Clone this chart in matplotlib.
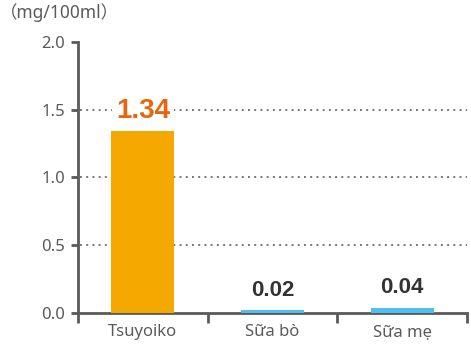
import matplotlib
matplotlib.use('Agg')
import matplotlib.pyplot as plt
import numpy as np

categories = ['Tsuyoiko', 'Sữa bò', 'Sữa mẹ']
values = [1.34, 0.02, 0.04]
label_texts = ['1.34', '0.02', '0.04']
yticks = [0.0, 0.5, 1.0, 1.5, 2.0]
unit = '（mg/100ml）'

bar_colors = ['#F5A800', '#4EC0EE', '#4EC0EE']
label_colors = ['#E8650E', '#333333', '#333333']
label_sizes = [20, 16, 16]
label_offsets = [5, 7, 7]
axis_grey = '#5a5a5a'

plt.rcParams['font.family'] = ['Noto Sans', 'Noto Sans CJK JP', 'DejaVu Sans']

fig = plt.figure(figsize=(4.71, 3.47), dpi=100)
ax = fig.add_axes([78 / 471, 34 / 347, 389 / 471, 271 / 347])

x = np.arange(len(categories))
ax.bar(x, values, width=0.485, color=bar_colors, zorder=3)

for xi, v, t, c, s, o in zip(x, values, label_texts, label_colors, label_sizes, label_offsets):
    ax.annotate(t, (xi, v), xytext=(0, o), textcoords='offset points',
                ha='center', va='bottom', fontsize=s, fontweight='bold',
                color=c, family='Liberation Sans', zorder=5,
                bbox=dict(boxstyle='square,pad=0.15', facecolor='white', edgecolor='none'))

ax.set_xlim(-0.5, 2.5)
ax.set_ylim(0, 2.0)
ax.set_yticks(yticks)
ax.set_yticklabels(['%.1f' % t for t in yticks])
ax.set_xticks(x)
ax.set_xticklabels(categories)
ax.set_xticks([-0.5, 0.5, 1.5, 2.5], minor=True)

for t in yticks[1:-1]:
    ax.axhline(t, xmin=0.005, color='#777777', lw=1.4, ls=(0, (1, 2.2)), zorder=1)

for side in ['top', 'right']:
    ax.spines[side].set_visible(False)
for side in ['left', 'bottom']:
    ax.spines[side].set_color(axis_grey)
    ax.spines[side].set_linewidth(2)

ax.tick_params(axis='y', length=5, width=2, color=axis_grey, labelcolor=axis_grey,
               labelsize=12, pad=4)
ax.tick_params(axis='x', which='major', length=0, labelcolor=axis_grey, labelsize=12, pad=8)
ax.tick_params(axis='x', which='minor', length=7, width=2, color=axis_grey)

fig.text(0.0, 1 - 13 / 347, unit, ha='left', va='center', fontsize=12.5, color=axis_grey)

fig.savefig('out.png', dpi=100)
